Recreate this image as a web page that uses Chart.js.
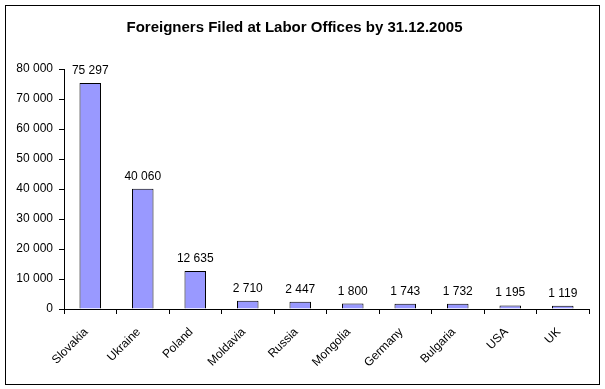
<!DOCTYPE html>
<html>
<head>
<meta charset="utf-8">
<script src="https://cdn.jsdelivr.net/npm/chart.js@4/dist/chart.umd.min.js"></script>
<style>
html,body{margin:0;padding:0;background:#fff;}
canvas{display:block;}
</style>
</head>
<body>
<canvas id="c" width="605" height="389"></canvas>
<script>
const categories = ["Slovakia","Ukraine","Poland","Moldavia","Russia","Mongolia","Germany","Bulgaria","USA","UK"];
const values = [75297, 40060, 12635, 2710, 2447, 1800, 1743, 1732, 1195, 1119];
const yTicks = [0, 10000, 20000, 30000, 40000, 50000, 60000, 70000, 80000];
const titleText = "Foreigners Filed at Labor Offices by 31.12.2005";

const FONT = "'Liberation Sans', Arial, sans-serif";
function fmt(v){ return String(v).replace(/\B(?=(\d{3})+(?!\d))/g, ' '); }

const frame = {
  id: 'frame',
  beforeDraw(chart){
    const ctx = chart.ctx;
    ctx.save();
    ctx.fillStyle = '#fff';
    ctx.fillRect(0,0,chart.width,chart.height);
    ctx.strokeStyle = '#000';
    ctx.lineWidth = 1;
    ctx.strokeRect(5.5, 5.5, 594, 379);
    ctx.restore();
  }
};
const dataLabels = {
  id: 'dataLabels',
  afterDatasetsDraw(chart){
    const ctx = chart.ctx;
    const meta = chart.getDatasetMeta(0);
    ctx.save();
    ctx.font = '12px ' + FONT;
    ctx.fillStyle = '#000';
    ctx.textAlign = 'center';
    ctx.textBaseline = 'alphabetic';
    meta.data.forEach((bar, i) => {
      ctx.fillText(fmt(values[i]), bar.x, bar.y - 9);
    });
    ctx.restore();
  }
};

new Chart(document.getElementById('c'), {
  type: 'bar',
  data: {
    labels: categories,
    datasets: [{
      data: values,
      backgroundColor: '#9999FF',
      borderColor: '#000',
      borderWidth: 1,
      categoryPercentage: 1,
      barPercentage: 0.41
    }]
  },
  options: {
    responsive: false,
    animation: false,
    events: [],
    layout: { padding: { left: 0, right: 16, top: 0, bottom: 0 } },
    plugins: {
      legend: { display: false },
      tooltip: { enabled: false },
      title: {
        display: true,
        text: titleText,
        color: '#000',
        font: { family: FONT, size: 15, weight: 'bold' },
        padding: { top: 19, bottom: 32 }
      }
    },
    scales: {
      x: {
        grid: { display: true, drawOnChartArea: false, drawTicks: true, tickLength: 5, color: '#000', offset: true },
        border: { display: true, color: '#000' },
        ticks: { color: '#000', font: { family: FONT, size: 12 }, minRotation: 45, maxRotation: 45, padding: 11, labelOffset: -4, autoSkip: false },
        afterFit(s){ s.height = 80; }
      },
      y: {
        min: 0, max: 80000,
        afterBuildTicks(s){ s.ticks = yTicks.map(v => ({ value: v })); },
        grid: { display: true, drawOnChartArea: false, drawTicks: true, tickLength: 5, color: '#000' },
        border: { display: true, color: '#000' },
        ticks: { color: '#000', font: { family: FONT, size: 12 }, padding: 6, callback: v => fmt(v) },
        afterFit(s){ s.width = 64; }
      }
    }
  },
  plugins: [frame, dataLabels]
});
</script>
</body>
</html>
